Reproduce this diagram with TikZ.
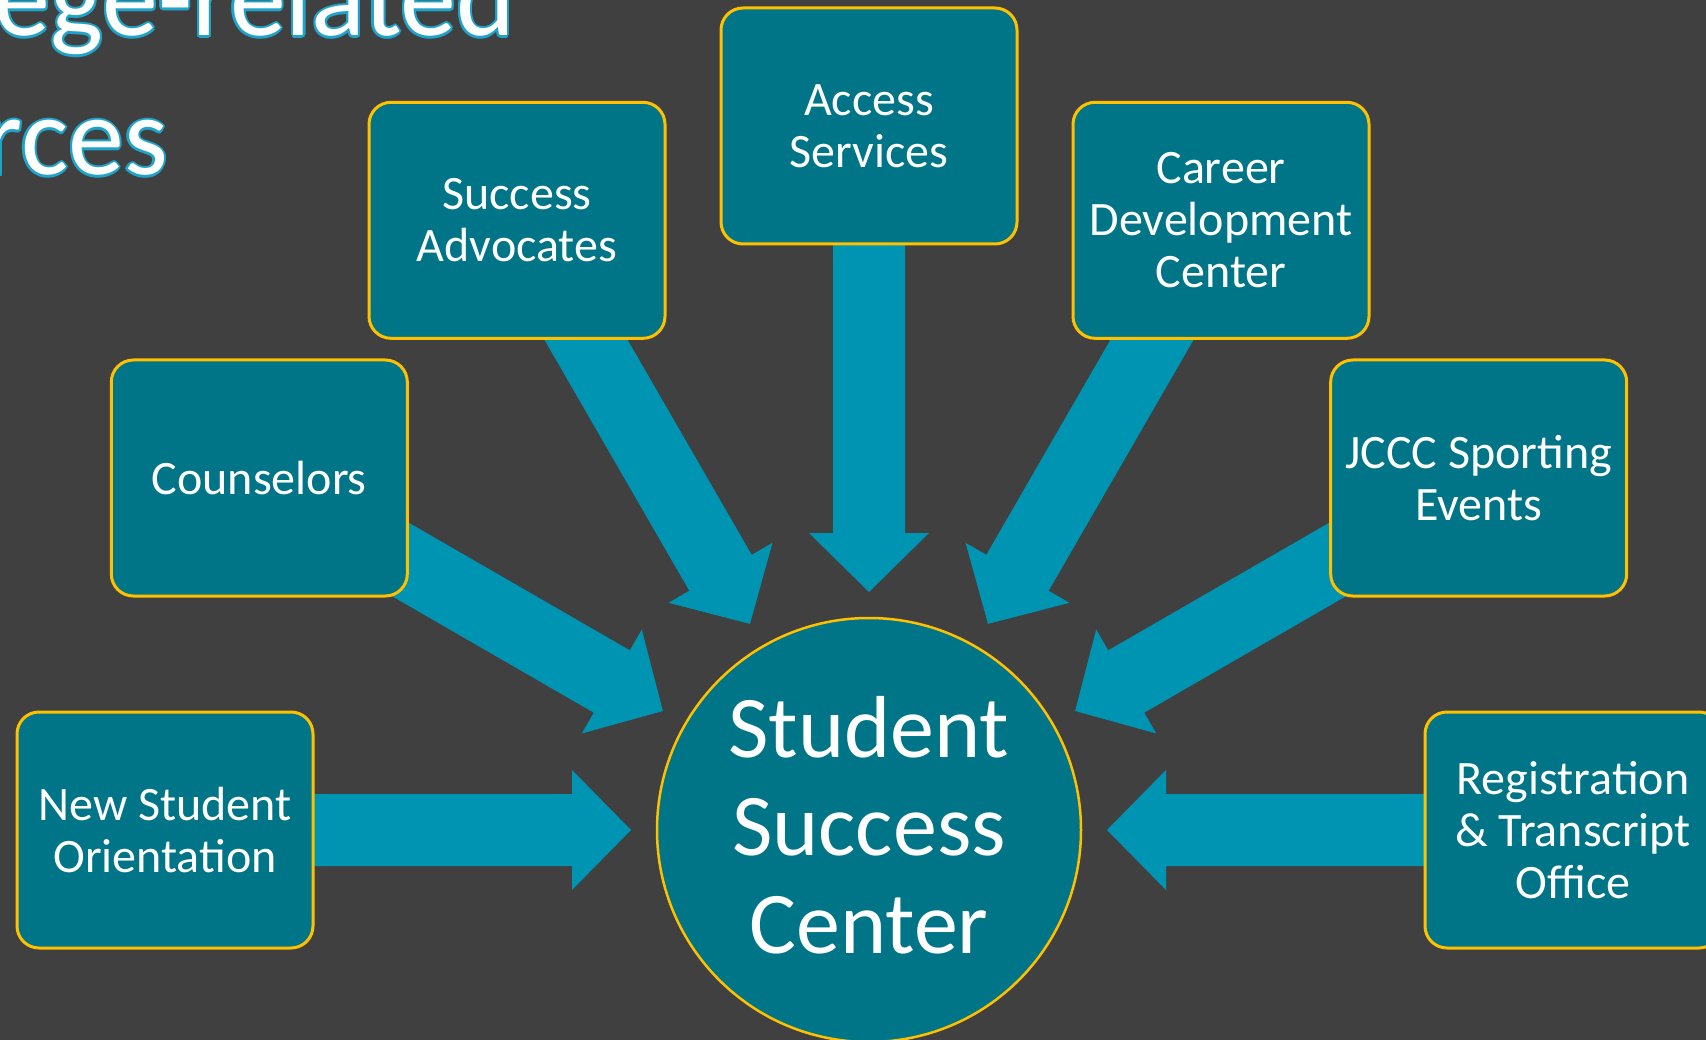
\documentclass[tikz,border=0pt]{standalone}
\usepackage{fontspec}
\setmainfont{Carlito}
\usetikzlibrary{calc}
\pgfdeclarelayer{bglayer}
\pgfdeclarelayer{arrowlayer}
\pgfsetlayers{bglayer,arrowlayer,main}
\definecolor{bgc}{HTML}{404040}
\definecolor{boxc}{HTML}{007587}
\definecolor{arrc}{HTML}{0094B3}
\definecolor{edgec}{HTML}{FFC000}
\definecolor{titlec}{HTML}{1FA3C9}
\newcommand\glowtxt[1]{\leavevmode
  \rlap{\color{titlec}\kern2.2pt#1}%
  \rlap{\color{titlec}\kern-2.2pt#1}%
  \rlap{\color{titlec}\raisebox{2.2pt}{#1}}%
  \rlap{\color{titlec}\raisebox{-2.2pt}{#1}}%
  \rlap{\color{titlec}\kern1.6pt\raisebox{1.6pt}{#1}}%
  \rlap{\color{titlec}\kern-1.6pt\raisebox{1.6pt}{#1}}%
  \rlap{\color{titlec}\kern1.6pt\raisebox{-1.6pt}{#1}}%
  \rlap{\color{titlec}\kern-1.6pt\raisebox{-1.6pt}{#1}}%
  #1}
\begin{document}
\begin{tikzpicture}[x=1pt,y=1pt,
  res/.style={draw=edgec, line width=3pt, fill=boxc, rounded corners=22pt,
    minimum width=296pt, minimum height=236pt, inner sep=0pt, align=center,
    text=white, font=\fontsize{48}{52}\selectfont},
  hub/.style={circle, draw=edgec, line width=2.5pt, fill=boxc, minimum size=424pt,
    inner sep=0pt, align=center, text=white, font=\fontsize{88}{98}\selectfont,
    text depth=10pt},
  blockarrow/.style={fill=arrc},
  titletxt/.style={inner sep=0pt, anchor=base east, text=white,
    font=\fontsize{112}{130}\selectfont}]
\useasboundingbox (0,0) rectangle (1706,-1040);
\begin{pgfonlayer}{bglayer}
  \fill[bgc] (0,0) rectangle (1706,-1040);
\end{pgfonlayer}

\node[titletxt] (t1) at (515,-36) {\glowtxt{ege-related}};
\node[titletxt] (t2) at (168,-175) {\glowtxt{rces}};

\node[hub] (ssc) at (869,-830) {Student\\Success\\Center};
\node[res] (nso) at ($(ssc.center)+(180:704)$) {New Student\\Orientation};
\node[res] (cou) at ($(ssc.center)+(150:704)$) {Counselors};
\node[res] (sad) at ($(ssc.center)+(120:704)$) {Success\\Advocates};
\node[res] (acc) at ($(ssc.center)+(90:704)$) {Access\\Services};
\node[res] (cdc) at ($(ssc.center)+(60:704)$) {Career\\Development\\Center};
\node[res] (jcc) at ($(ssc.center)+(30:704)$) {JCCC Sporting\\Events};
\node[res] (reg) at ($(ssc.center)+(0:704)$) {Registration\\\& Transcript\\Office};

\begin{pgfonlayer}{arrowlayer}
\foreach \b in {nso,cou,sad,acc,cdc,jcc,reg}{
  \coordinate (\b-h) at ($(ssc.center)!297pt!(\b.center)$);
  \coordinate (\b-e) at ($(ssc.center)!600pt!(\b.center)$);
  \fill[blockarrow] ($(ssc.center)!238pt!(\b.center)$)
    -- ($(\b-h)!60pt!90:(\b.center)$) -- ($(\b-h)!36pt!90:(\b.center)$)
    -- ($(\b-e)!36pt!90:(\b.center)$) -- ($(\b-e)!36pt!-90:(\b.center)$)
    -- ($(\b-h)!36pt!-90:(\b.center)$) -- ($(\b-h)!60pt!-90:(\b.center)$)
    -- cycle;
}
\end{pgfonlayer}
\end{tikzpicture}
\end{document}
